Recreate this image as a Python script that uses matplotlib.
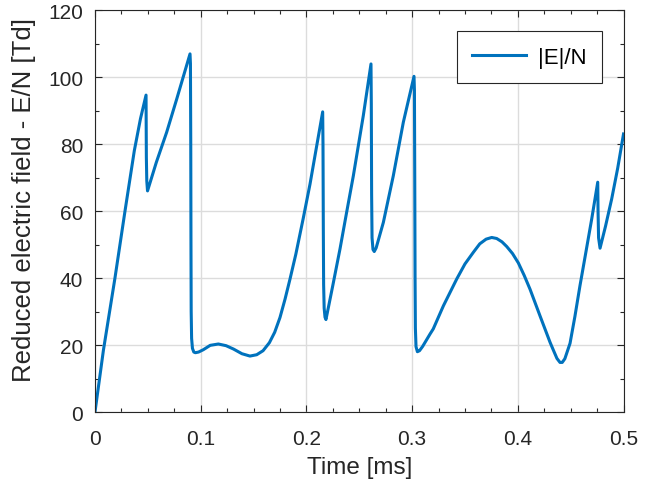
import matplotlib
matplotlib.use("Agg")
import matplotlib.pyplot as plt
from matplotlib.ticker import MultipleLocator

plt.rcParams['font.family'] = ['Liberation Sans', 'DejaVu Sans']

# values
time_ms = [0, 0.008, 0.0189, 0.0284, 0.0372, 0.0430, 0.0483,
           0.0484, 0.0486, 0.0490, 0.0497, 0.0580, 0.0678, 0.0773, 0.0899,
           0.0903, 0.0906, 0.0908, 0.0910, 0.0914, 0.0922, 0.0935, 0.0950, 0.0980,
           0.1025, 0.1090, 0.1167, 0.1240, 0.1310, 0.1390, 0.1466, 0.1530, 0.1590,
           0.1650, 0.1700, 0.1750, 0.1798, 0.1845, 0.1900, 0.1970, 0.2034, 0.2095, 0.2154,
           0.2157, 0.2160, 0.2163, 0.2168, 0.2176, 0.2185, 0.2250, 0.2318, 0.2380,
           0.2444, 0.2538, 0.2611,
           0.2614, 0.2617, 0.2621, 0.2630, 0.2642, 0.2660, 0.2728, 0.2822, 0.2917, 0.3018,
           0.3022, 0.3025, 0.3028, 0.3031, 0.3037, 0.3050, 0.3070, 0.3100, 0.3170, 0.3200,
           0.3296, 0.3422, 0.3500, 0.3580, 0.3640, 0.3700, 0.3753, 0.3800, 0.3850, 0.3895,
           0.3950, 0.4005, 0.4060, 0.4115, 0.4210, 0.4305, 0.4340, 0.4370, 0.4399, 0.4420,
           0.4445, 0.4494, 0.4540, 0.4588, 0.4640, 0.4699, 0.4756,
           0.4759, 0.4764, 0.4778, 0.4830, 0.4888, 0.4945, 0.5000]
field_td = [0, 18.5, 40.0, 60.0, 78.0, 87.5, 94.6,
            88.0, 76.0, 69.0, 66.0, 74.5, 83.5, 93.4, 106.9,
            104.0, 80.0, 50.0, 30.0, 22.0, 19.0, 17.9, 17.7, 17.9,
            18.6, 19.9, 20.3, 19.8, 18.8, 17.4, 16.7, 17.1, 18.3,
            20.7, 23.8, 28.2, 33.7, 39.7, 47.1, 57.8, 68.0, 79.0, 89.6,
            80.0, 55.0, 38.0, 31.0, 28.3, 27.6, 37.8, 48.7, 59.5,
            70.5, 88.4, 103.9,
            92.0, 65.0, 52.0, 48.5, 47.9, 49.0, 56.6, 70.5, 86.5, 100.2,
            96.0, 70.0, 40.0, 25.0, 19.5, 18.0, 18.3, 19.6, 23.3, 24.8,
            31.7, 39.7, 44.2, 47.7, 50.2, 51.6, 52.1, 51.8, 50.8, 49.4,
            47.3, 44.5, 40.8, 36.7, 28.7, 20.8, 18.2, 16.0, 14.8, 14.8,
            15.9, 20.5, 28.5, 37.7, 47.0, 57.6, 68.6,
            60.0, 52.0, 48.9, 55.5, 63.6, 72.8, 83.0]

x_ticks = [0, 0.1, 0.2, 0.3, 0.4, 0.5]
x_tick_labels = ['0', '0.1', '0.2', '0.3', '0.4', '0.5']

axis_col = '#262626'

fig = plt.figure(figsize=(6.61, 4.89), dpi=100)
ax = fig.add_axes([0.1437, 0.1554, 0.7996, 0.8221])

ax.plot(time_ms, field_td, color='#0072BD', lw=2.2, label='|E|/N')

ax.set_xlim(0, 0.5)
ax.set_ylim(0, 120)
ax.set_xticks(x_ticks)
ax.set_xticklabels(x_tick_labels)
ax.xaxis.set_minor_locator(MultipleLocator(0.025))
ax.yaxis.set_major_locator(MultipleLocator(20))
ax.yaxis.set_minor_locator(MultipleLocator(10))

ax.grid(True, which='major', color='#dcdcdc', lw=1)
ax.set_axisbelow(True)
ax.tick_params(which='both', direction='in', top=True, right=True,
               colors=axis_col, labelsize=15, width=0.8)
ax.tick_params(which='major', length=5)
ax.tick_params(which='minor', length=3)
ax.tick_params(axis='x', which='major', pad=12)
ax.tick_params(axis='y', which='major', pad=8.5)
for s in ax.spines.values():
    s.set_color(axis_col)
    s.set_linewidth(0.8)

ax.set_xlabel('Time [ms]', fontsize=17.5, color=axis_col, labelpad=6)
ax.set_ylabel('Reduced electric field - E/N [Td]', fontsize=18.5, color=axis_col)
# label sits a little above the axes centre in the reference
ax.yaxis.set_label_coords(-0.112, 0.53)

leg = ax.legend(loc='upper right', fontsize=16, fancybox=False, framealpha=1,
                edgecolor=axis_col, borderpad=0.7, handlelength=2.4,
                handletextpad=0.55, borderaxespad=0,
                bbox_to_anchor=(0.9593, 0.9478))
leg.get_frame().set_linewidth(0.8)

fig.savefig('out.png', dpi=100)
